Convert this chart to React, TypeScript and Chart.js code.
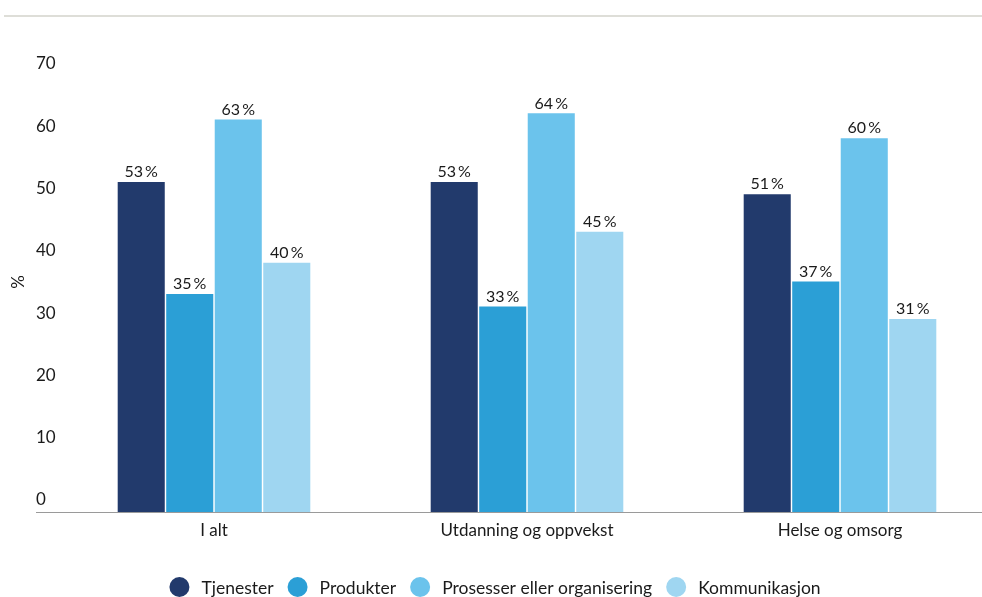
import React, { useEffect, useRef } from "react";
import { Chart, registerables } from "chart.js";

Chart.register(...registerables);

const categories = ["I alt", "Utdanning og oppvekst", "Helse og omsorg"];
const seriesNames = ["Tjenester", "Produkter", "Prosesser eller organisering", "Kommunikasjon"];
const tjenester = [53, 53, 51];
const produkter = [35, 33, 37];
const prosesser = [63, 64, 60];
const kommunikasjon = [40, 45, 31];
const seriesValues = [tjenester, produkter, prosesser, kommunikasjon];
const colors = ["#223a6c", "#2b9fd6", "#6bc3ec", "#9fd6f1"];
const yTicks = [0, 10, 20, 30, 40, 50, 60, 70];

const FONT = "Lato, 'Open Sans', sans-serif";
const TEXT = "#1a1a1a";

const decorPlugin = {
  id: "decor",
  afterDraw(chart: any) {
    const ctx = chart.ctx;
    const y = chart.scales.y;
    ctx.save();
    // top rule
    ctx.strokeStyle = "#deded8";
    ctx.lineWidth = 2;
    ctx.beginPath();
    ctx.moveTo(4, 16);
    ctx.lineTo(chart.width, 16);
    ctx.stroke();
    // baseline
    const y0 = Math.round(y.getPixelForValue(0)) + 0.5;
    ctx.strokeStyle = "#9a9a9a";
    ctx.lineWidth = 1;
    ctx.beginPath();
    ctx.moveTo(36, y0);
    ctx.lineTo(chart.width, y0);
    ctx.stroke();
    // y title
    ctx.fillStyle = TEXT;
    ctx.font = `17px ${FONT}`;
    ctx.textAlign = "center";
    ctx.textBaseline = "middle";
    ctx.translate(19, 282);
    ctx.rotate(-Math.PI / 2);
    ctx.fillText("%", 0, 0);
    ctx.setTransform(1, 0, 0, 1, 0, 0);
    // data labels
    ctx.font = `16px ${FONT}`;
    ctx.textAlign = "center";
    ctx.textBaseline = "bottom";
    chart.data.datasets.forEach((ds: any, di: number) => {
      const meta = chart.getDatasetMeta(di);
      meta.data.forEach((bar: any, i: number) => {
        ctx.fillText(`${ds.data[i]}\u2009%`, bar.x, bar.y - 2);
      });
    });
    // legend
    ctx.font = `17.5px ${FONT}`;
    ctx.textBaseline = "middle";
    ctx.textAlign = "left";
    const r = 10;
    const textOff = 22;
    const gap = 14;
    const widths = seriesNames.map((n) => ctx.measureText(n).width);
    let total = 0;
    widths.forEach((w, i) => {
      total += r + textOff + w + (i < widths.length - 1 ? gap : 0);
    });
    let cx = 495 - total / 2;
    const ly = 587;
    seriesNames.forEach((n, i) => {
      ctx.fillStyle = colors[i];
      ctx.beginPath();
      ctx.arc(cx + r, ly, r, 0, Math.PI * 2);
      ctx.fill();
      ctx.fillStyle = TEXT;
      ctx.fillText(n, cx + r + textOff, ly + 1);
      cx += r + textOff + widths[i] + gap;
    });
    ctx.restore();
  },
};

export default function App() {
  const ref = useRef<HTMLCanvasElement>(null);
  useEffect(() => {
    document.body.style.margin = "0";
    const chart = new Chart(ref.current!, {
      type: "bar",
      data: {
        labels: categories,
        datasets: seriesNames.map((name, i) => ({
          label: name,
          data: seriesValues[i],
          backgroundColor: colors[i],
          borderWidth: 0,
          barPercentage: 0.97,
          categoryPercentage: 0.62,
        })),
      },
      options: {
        animation: false,
        responsive: false,
        layout: { padding: { left: 36, right: 3.5, top: 76, bottom: 0 } },
        plugins: { legend: { display: false }, tooltip: { enabled: false } },
        scales: {
          x: {
            grid: { display: false, drawTicks: false },
            border: { display: false },
            ticks: { color: TEXT, font: { family: FONT, size: 17 }, padding: 8 },
            afterFit: (s: any) => {
              s.height = 85;
            },
          },
          y: {
            min: 0,
            max: 70,
            afterBuildTicks: (s: any) => {
              s.ticks = yTicks.map((v) => ({ value: v }));
            },
            grid: { display: false, drawTicks: false },
            border: { display: false },
            ticks: {
              color: TEXT,
              font: { family: FONT, size: 17 },
              crossAlign: "far",
              labelOffset: -12,
              padding: 0,
            },
            afterFit: (s: any) => {
              s.width = 21.5;
            },
          },
        },
      },
      plugins: [decorPlugin],
    });
    return () => chart.destroy();
  }, []);
  return (
    <div style={{ width: 982, height: 597, overflow: "hidden" }}>
      <canvas ref={ref} width={1000} height={597} style={{ display: "block" }} />
    </div>
  );
}
